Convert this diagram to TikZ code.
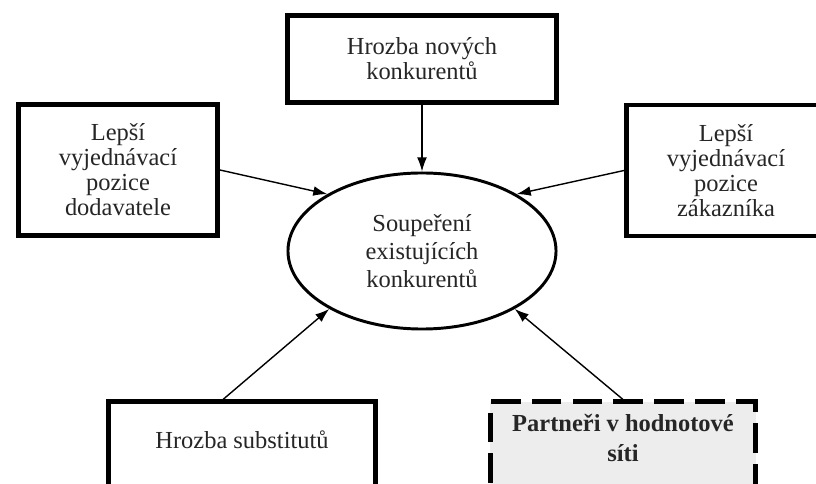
\documentclass[tikz,border=0pt]{standalone}
\usepackage{fontspec}
\setmainfont{Liberation Serif}
\usetikzlibrary{arrows.meta, calc, shapes.geometric, positioning}

\begin{document}
\begin{tikzpicture}[x=0.025cm, y=-0.025cm, >={Latex[length=10pt, width=7pt]},
    font=\fontsize{17.4}{17.8}\selectfont, text=black!85,
    sila/.style={draw, line width=3.5pt, align=center, inner sep=0pt},
    sipka/.style={->, line width=1pt}]
    % 1. Výřez obrázku
    \clip (0,0) rectangle (816,484);

    % 2. Soupeření uprostřed (elipsa)
    \node[draw, ellipse, line width=2.1pt, minimum width=6.7cm, minimum height=3.9cm,
          align=center, inner sep=0pt, font=\fontsize{17.4}{19.9}\selectfont]
          (sou) at (422,251) {Soupeření\\existujících\\konkurentů};

    % 3. Okolní síly
    \node[sila, minimum width=6.725cm, minimum height=2.175cm] (nov) at (422,59)
          {Hrozba nových\\konkurentů};
    \node[sila, minimum width=4.975cm, minimum height=3.275cm] (dod) at (118,170)
          {Lepší\\vyjednávací\\pozice\\dodavatele};
    \node[sila, minimum width=4.975cm, minimum height=3.275cm] (zak) at (726,170.5)
          {Lepší\\vyjednávací\\pozice\\zákazníka};
    \node[sila, anchor=north, minimum width=6.675cm, text height=1.16cm, text depth=2cm]
          (sub) at (242,399.5) {Hrozba substitutů};
    \node[sila, dash pattern=on 21pt off 8pt, fill=black!7, anchor=north,
          minimum width=6.625cm, inner ysep=9pt, text depth=2cm,
          font=\bfseries\fontsize{17.4}{21.3}\selectfont]
          (par) at (623,399.5) {Partneři v hodnotové\\síti};

    % 4. Šipky do elipsy
    \draw[sipka] (nov) -- (sou);
    \draw[sipka] (dod.east) -- (sou.149);
    \draw[sipka] (zak.west) -- (sou.31);
    \draw[sipka] ([xshift=-0.475cm]sub.north) -- (sou.212);
    \draw[sipka] (par.north) -- (sou.328);
\end{tikzpicture}
\end{document}
